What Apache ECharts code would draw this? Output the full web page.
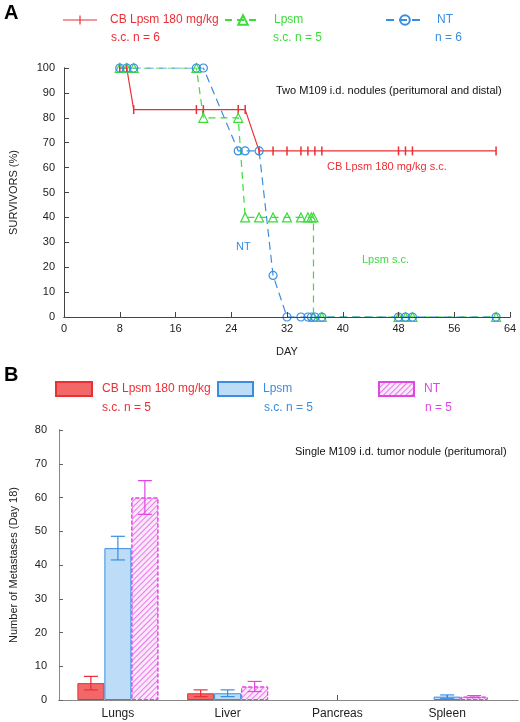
<!DOCTYPE html>
<html><head><meta charset="utf-8">
<script src="https://cdn.jsdelivr.net/npm/echarts@6/dist/echarts.min.js"></script>
<style>html,body{margin:0;padding:0;background:#fff}#c{width:520px;height:722px}</style>
</head><body><div id="c"></div>
<script>
// ---- Panel A: survival data (day, % survivors) ----
const cbDays   = [8,9,10,19,20,25,26,28,30,32,34,35,36,37,48,49,50,62];
const cbSurv   = [100,100,83.3,83.3,83.3,83.3,83.3,66.7,66.7,66.7,66.7,66.7,66.7,66.7,66.7,66.7,66.7,66.7];
const lpDays   = [8,9,10,19,20,25,26,28,30,32,34,35,35.5,35.8,35.8,37,48,49,50,62];
const lpSurv   = [100,100,100,100,80,80,40,40,40,40,40,40,40,40,0,0,0,0,0,0];
const ntDays   = [8,9,10,19,20,25,26,28,30,32,34,35,35.5,36,37,48,49,50,62];
const ntSurv   = [100,100,100,100,100,66.7,66.7,66.7,16.7,0,0,0,0,0,0,0,0,0,0];
const dayTicks = [0,8,16,24,32,40,48,56,64];
const survTicks = [0,10,20,30,40,50,60,70,80,90,100];

// ---- Panel B: metastases (Day 18) ----
const organs   = ['Lungs','Liver','Pancreas','Spleen'];
const cbMet    = [5,2,0,0];
const cbErr    = [2,1,0,0];
const lpMet    = [45,2,0,1];
const lpErr    = [3.5,1,0,0.5];
const ntMet    = [60,4,0,1];
const ntErr    = [5,1.5,0,0.3];
const metTicks = [0,10,20,30,40,50,60,70,80];

const RED='#ec2f35', GREEN='#3ddc3d', BLUE='#3a8ee2', PINK='#e046e0';
const FONT='Liberation Sans';

const pair=(xs,ys)=>xs.map((x,i)=>[x,ys[i]]);
const tickPath='path://M0,0L2,0L2,20L0,20Z';
const legTickPath='path://M0,5.4H16.4V1.5H17.6V5.4H34V6.6H17.6V10.5H16.4V6.6H0Z';
const barData=(vals)=>vals.map(v=>v===0?{value:v,itemStyle:{borderWidth:0}}:v);

function errSeries(name, vals, errs, color, off){
  const data=[];
  vals.forEach((v,i)=>{ if(errs[i]>0) data.push([i, v-errs[i], v+errs[i]]); });
  return {
    type:'custom', name:name+'_err', xAxisIndex:2, yAxisIndex:2, z:5,
    data,
    renderItem:(params,api)=>{
      const lo=api.coord([api.value(0),api.value(1)]);
      const hi=api.coord([api.value(0),api.value(2)]);
      const x=lo[0]+off, cw=7;
      const st={stroke:color,lineWidth:1.2};
      return {type:'group',children:[
        {type:'line',shape:{x1:x,y1:lo[1],x2:x,y2:hi[1]},style:st},
        {type:'line',shape:{x1:x-cw,y1:hi[1],x2:x+cw,y2:hi[1]},style:st},
        {type:'line',shape:{x1:x-cw,y1:lo[1],x2:x+cw,y2:lo[1]},style:st}
      ]};
    }
  };
}

const BW=27;
const chart=echarts.init(document.getElementById('c'),null,{renderer:'canvas'});
const axLbl={fontFamily:FONT,fontSize:11,color:'#222'};
const legText=(c,p)=>({color:c,fontFamily:FONT,fontSize:12,padding:[0,0,0,p]});

const option={
  backgroundColor:'#fff',
  animation:false,
  grid:[
    {left:62,right:10,top:68,height:249},
    {left:55,right:2,top:430,height:270},
    {left:63,right:18,top:430,height:270}
  ],
  xAxis:[
    {type:'value',gridIndex:0,min:0,max:64,interval:8,z:10,
     name:'DAY',nameLocation:'middle',nameGap:29,nameTextStyle:{fontFamily:FONT,fontSize:11,color:'#222'},
     axisLine:{show:true,lineStyle:{color:'#444'}},
     axisTick:{show:true,inside:true,length:5,lineStyle:{color:'#444'}},
     axisLabel:Object.assign({margin:6},axLbl),splitLine:{show:false}},
    {type:'value',gridIndex:1,min:0,max:1,position:'bottom',
     axisLine:{show:true,lineStyle:{color:'#666'}},axisTick:{show:false},axisLabel:{show:false},splitLine:{show:false}},
    {type:'category',gridIndex:2,data:organs,
     axisLine:{show:false},
     axisTick:{show:true,inside:true,alignWithLabel:true,length:5,lineStyle:{color:'#555'}},
     axisLabel:Object.assign({margin:8},axLbl,{fontSize:12}),splitLine:{show:false}},
    {type:'value',gridIndex:0,min:0,max:64,position:'top',z:10,
     axisLine:{show:true,lineStyle:{color:'#444'}},axisTick:{show:false},axisLabel:{show:false},splitLine:{show:false}},
    {type:'value',gridIndex:1,min:0,max:1,position:'top',
     axisLine:{show:true,lineStyle:{color:'#888'}},axisTick:{show:false},axisLabel:{show:false},splitLine:{show:false}}
  ],
  yAxis:[
    {type:'value',gridIndex:0,min:0,max:100,interval:10,z:10,
     name:'SURVIVORS (%)',nameLocation:'middle',nameGap:45,nameTextStyle:{fontFamily:FONT,fontSize:11,color:'#222'},
     axisLine:{show:true,lineStyle:{color:'#444'}},
     axisTick:{show:true,inside:true,length:5,lineStyle:{color:'#444'}},
     axisLabel:Object.assign({margin:9},axLbl),splitLine:{show:false}},
    {type:'value',gridIndex:1,min:0,max:80,interval:10,
     name:'Number of Metastases (Day 18)',nameLocation:'middle',nameGap:40,nameTextStyle:{fontFamily:FONT,fontSize:11,color:'#222'},
     axisLine:{show:true,lineStyle:{color:'#666'}},
     axisTick:{show:true,inside:true,length:4,lineStyle:{color:'#666'}},
     axisLabel:Object.assign({margin:12},axLbl),splitLine:{show:false}},
    {type:'value',gridIndex:2,min:0,max:80,show:false},
    {type:'value',gridIndex:0,min:0,max:100,position:'right',
     axisLine:{show:true,lineStyle:{color:'#666'}},axisTick:{show:false},axisLabel:{show:false},splitLine:{show:false}},
    {type:'value',gridIndex:1,min:0,max:80,position:'right',
     axisLine:{show:true,lineStyle:{color:'#888'}},axisTick:{show:false},axisLabel:{show:false},splitLine:{show:false}}
  ],
  legend:[
    {left:63,top:14,padding:0,itemWidth:34,itemHeight:12,data:[{name:'CB Lpsm 180 mg/kg',icon:legTickPath,textStyle:legText(RED,8)}]},
    {left:224,top:14,padding:0,itemWidth:36,itemHeight:12,data:[{name:'Lpsm',textStyle:legText(GREEN,8)}]},
    {left:385,top:14,padding:0,itemWidth:38,itemHeight:12,data:[{name:'NT',textStyle:legText(BLUE,8)}]},
    {left:55,top:381,padding:0,itemWidth:36,itemHeight:14,data:[{name:'CB Lpsm 180 mg/kg ',icon:'rect',textStyle:legText(RED,5)}]},
    {left:217,top:381,padding:0,itemWidth:35,itemHeight:14,data:[{name:'Lpsm ',icon:'rect',textStyle:legText(BLUE,5)}]},
    {left:378,top:381,padding:0,itemWidth:35,itemHeight:14,data:[{name:'NT ',icon:'rect',textStyle:legText(PINK,5)}]}
  ],
  graphic:[
    {type:'text',left:4,top:3,style:{text:'A',font:'bold 20px '+FONT,fill:'#000'}},
    {type:'text',left:4,top:365,style:{text:'B',font:'bold 20px '+FONT,fill:'#000'}},
    {type:'text',left:111,top:32,style:{text:'s.c. n = 6',font:'12px '+FONT,fill:RED}},
    {type:'text',left:273,top:32,style:{text:'s.c. n = 5',font:'12px '+FONT,fill:GREEN}},
    {type:'text',left:435,top:32,style:{text:'n = 6',font:'12px '+FONT,fill:BLUE}},
    {type:'text',left:102,top:402,style:{text:'s.c. n = 5',font:'12px '+FONT,fill:RED}},
    {type:'text',left:264,top:402,style:{text:'s.c. n = 5',font:'12px '+FONT,fill:BLUE}},
    {type:'text',left:425,top:402,style:{text:'n = 5',font:'12px '+FONT,fill:PINK}},
    {type:'text',left:276,top:85,style:{text:'Two M109 i.d. nodules (peritumoral and distal)',font:'11px '+FONT,fill:'#111'}},
    {type:'text',left:327,top:161,style:{text:'CB Lpsm 180 mg/kg s.c.',font:'11px '+FONT,fill:RED}},
    {type:'text',left:236,top:241,style:{text:'NT',font:'11px '+FONT,fill:BLUE}},
    {type:'text',left:362,top:254,style:{text:'Lpsm s.c.',font:'11px '+FONT,fill:GREEN}},
    {type:'text',left:295,top:446,style:{text:'Single M109 i.d. tumor nodule (peritumoral)',font:'11px '+FONT,fill:'#111'}}
  ],
  series:[
    {type:'line',name:'CB Lpsm 180 mg/kg',xAxisIndex:0,yAxisIndex:0,data:pair(cbDays,cbSurv),
     symbol:tickPath,symbolSize:[1.5,9],showAllSymbol:true,
     itemStyle:{color:RED},lineStyle:{color:RED,width:1.2}},
    {type:'line',name:'Lpsm',xAxisIndex:0,yAxisIndex:0,data:pair(lpDays,lpSurv),
     symbol:'triangle',symbolSize:9,showAllSymbol:true,
     itemStyle:{color:'rgba(255,255,255,0)',borderColor:GREEN,borderWidth:1.2},
     lineStyle:{color:GREEN,width:1.2,type:[7,5]}},
    {type:'line',name:'NT',xAxisIndex:0,yAxisIndex:0,data:pair(ntDays,ntSurv),
     symbol:'circle',symbolSize:8,showAllSymbol:true,
     itemStyle:{color:'rgba(255,255,255,0)',borderColor:BLUE,borderWidth:1.2},
     lineStyle:{color:BLUE,width:1.2,type:[8,5]}},
    {type:'bar',name:'CB Lpsm 180 mg/kg ',xAxisIndex:2,yAxisIndex:2,data:barData(cbMet),barWidth:BW,barGap:'0%',
     itemStyle:{color:'#f26868',borderColor:RED,borderWidth:1}},
    {type:'bar',name:'Lpsm ',xAxisIndex:2,yAxisIndex:2,data:barData(lpMet),barWidth:BW,barGap:'0%',
     itemStyle:{color:'#bcdcf8',borderColor:BLUE,borderWidth:1}},
    {type:'bar',name:'NT ',xAxisIndex:2,yAxisIndex:2,data:barData(ntMet),barWidth:BW,barGap:'0%',
     itemStyle:{color:'#fce8fc',borderColor:PINK,borderWidth:1,borderType:'dashed',
       decal:{symbol:'rect',symbolSize:1,dashArrayX:[1,0],dashArrayY:[1,3],rotation:-Math.PI/4,color:'#e879e8'}}},
    errSeries('cb',cbMet,cbErr,RED,-BW),
    errSeries('lp',lpMet,lpErr,BLUE,0),
    errSeries('nt',ntMet,ntErr,PINK,BW)
  ]
};
chart.setOption(option);
</script></body></html>
